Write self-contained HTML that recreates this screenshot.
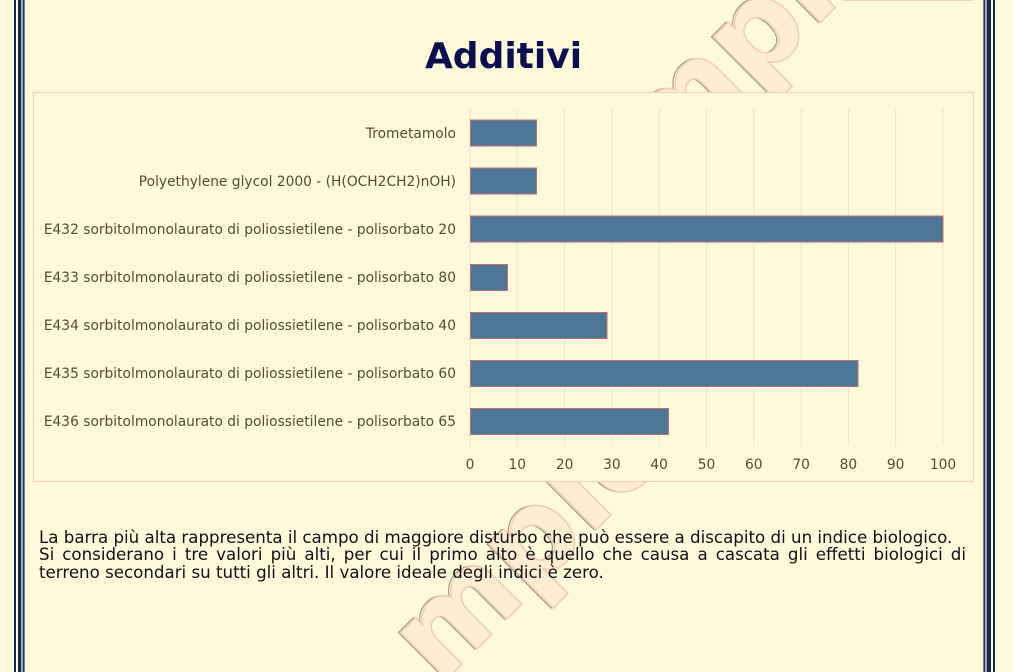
<!DOCTYPE html>
<html>
<head>
<meta charset="utf-8">
<style>
  html, body { margin:0; padding:0; overflow:hidden; width:1013px; height:672px; }
  body { background:#fff9db; position:relative; font-family:"DejaVu Sans","Liberation Sans",sans-serif; }
  svg { position:absolute; left:0; top:0; display:block; }
  .txt { position:absolute; left:39px; font-size:16.67px; line-height:17.5px; color:#111;
         white-space:nowrap; font-family:"DejaVu Sans","Liberation Sans",sans-serif; }
  .just { width:927px; text-align:justify; text-align-last:justify; white-space:normal; }
</style>
</head>
<body>
<svg width="1013" height="672" viewBox="0 0 1013 672" style="overflow:hidden">
  <defs>
    <clipPath id="pg"><rect x="0" y="0" width="1013" height="672"/></clipPath>
  </defs>
  <!-- watermark (behind chart) -->
  <g clip-path="url(#pg)">
    <line x1="843" y1="0.5" x2="973" y2="0.5" stroke="#efd2b8" stroke-width="1"/>
    <g font-family="DejaVu Sans, Liberation Sans, sans-serif" font-size="120" font-weight="bold">
      <g transform="translate(546,297) rotate(-45)">
        <text x="-1.5" y="-1.5" fill="none" stroke="#3e3630" stroke-width="1" opacity="0.55">Sample</text>
        <text x="0" y="0" fill="#fdedd3" stroke="#efcdb0" stroke-width="1.5">Sample</text>
      </g>
      <g transform="translate(440,686) rotate(-45)">
        <text x="-1.5" y="-1.5" fill="none" stroke="#3e3630" stroke-width="1" opacity="0.55">mple</text>
        <text x="0" y="0" fill="#fdedd3" stroke="#efcdb0" stroke-width="1.5">mple</text>
      </g>
    </g>
  </g>

  <!-- page borders left -->
  <rect x="14" y="0" width="2" height="672" fill="#0c2a52"/>
  <rect x="18" y="0" width="3" height="672" fill="#0c2a52"/>
  <rect x="21" y="0" width="2" height="672" fill="#a3abb0"/>
  <rect x="23" y="0" width="1.6" height="672" fill="#1d355a"/>
  <!-- page borders right -->
  <rect x="983.4" y="0" width="1.6" height="672" fill="#1d355a"/>
  <rect x="985" y="0" width="2" height="672" fill="#a3abb0"/>
  <rect x="987" y="0" width="4" height="672" fill="#0c2a52"/>
  <rect x="993" y="0" width="2" height="672" fill="#0c2a52"/>

  <!-- title -->
  <text x="503.5" y="68" text-anchor="middle" font-family="DejaVu Sans, Liberation Sans, sans-serif"
        font-weight="bold" font-size="36" fill="#0b0f4e">Additivi</text>

  <!-- chart box (opaque, covers watermark) -->
  <rect x="33.5" y="92.5" width="940" height="389" fill="#fff9db" stroke="#f1d3b8" stroke-width="1.2"/>

  <!-- gridlines -->
  <g stroke="#fcdcc6" stroke-width="1">
    <line x1="470" y1="109" x2="470" y2="446"/>
    <line x1="517.3" y1="109" x2="517.3" y2="446"/>
    <line x1="564.6" y1="109" x2="564.6" y2="446"/>
    <line x1="611.9" y1="109" x2="611.9" y2="446"/>
    <line x1="659.2" y1="109" x2="659.2" y2="446"/>
    <line x1="706.5" y1="109" x2="706.5" y2="446"/>
    <line x1="753.8" y1="109" x2="753.8" y2="446"/>
    <line x1="801.1" y1="109" x2="801.1" y2="446"/>
    <line x1="848.4" y1="109" x2="848.4" y2="446"/>
    <line x1="895.7" y1="109" x2="895.7" y2="446"/>
    <line x1="943" y1="109" x2="943" y2="446"/>
  </g>

  <!-- bars -->
  <g fill="#4d7697" stroke="#c46c72" stroke-width="1">
    <rect x="470.5" y="120" width="66" height="26"/>
    <rect x="470.5" y="168" width="66" height="26"/>
    <rect x="470.5" y="216" width="472.5" height="26"/>
    <rect x="470.5" y="264.5" width="37" height="26"/>
    <rect x="470.5" y="312.5" width="136.5" height="26"/>
    <rect x="470.5" y="360.5" width="387.5" height="26"/>
    <rect x="470.5" y="408.5" width="198" height="26"/>
  </g>

  <!-- category labels -->
  <g font-family="DejaVu Sans, Liberation Sans, sans-serif" font-size="13.8" fill="#5a4838" text-anchor="end">
    <text x="456" y="138">Trometamolo</text>
    <text x="456" y="186">Polyethylene glycol 2000 - (H(OCH2CH2)nOH)</text>
    <text x="456" y="234">E432 sorbitolmonolaurato di poliossietilene - polisorbato 20</text>
    <text x="456" y="282">E433 sorbitolmonolaurato di poliossietilene - polisorbato 80</text>
    <text x="456" y="330">E434 sorbitolmonolaurato di poliossietilene - polisorbato 40</text>
    <text x="456" y="378">E435 sorbitolmonolaurato di poliossietilene - polisorbato 60</text>
    <text x="456" y="426">E436 sorbitolmonolaurato di poliossietilene - polisorbato 65</text>
  </g>

  <!-- x tick labels -->
  <g font-family="DejaVu Sans, Liberation Sans, sans-serif" font-size="13.8" fill="#5a4838" text-anchor="middle">
    <text x="470" y="469">0</text>
    <text x="517.3" y="469">10</text>
    <text x="564.6" y="469">20</text>
    <text x="611.9" y="469">30</text>
    <text x="659.2" y="469">40</text>
    <text x="706.5" y="469">50</text>
    <text x="753.8" y="469">60</text>
    <text x="801.1" y="469">70</text>
    <text x="848.4" y="469">80</text>
    <text x="895.7" y="469">90</text>
    <text x="943" y="469">100</text>
  </g>
</svg>

<div class="txt" style="top:528.5px;">La barra più alta rappresenta il campo di maggiore disturbo che può essere a discapito di un indice biologico.</div>
<div class="txt just" style="top:546px;">Si considerano i tre valori più alti, per cui il primo alto è quello che causa a cascata gli effetti biologici di</div>
<div class="txt" style="top:563.5px;">terreno secondari su tutti gli altri. Il valore ideale degli indici è zero.</div>
</body>
</html>
